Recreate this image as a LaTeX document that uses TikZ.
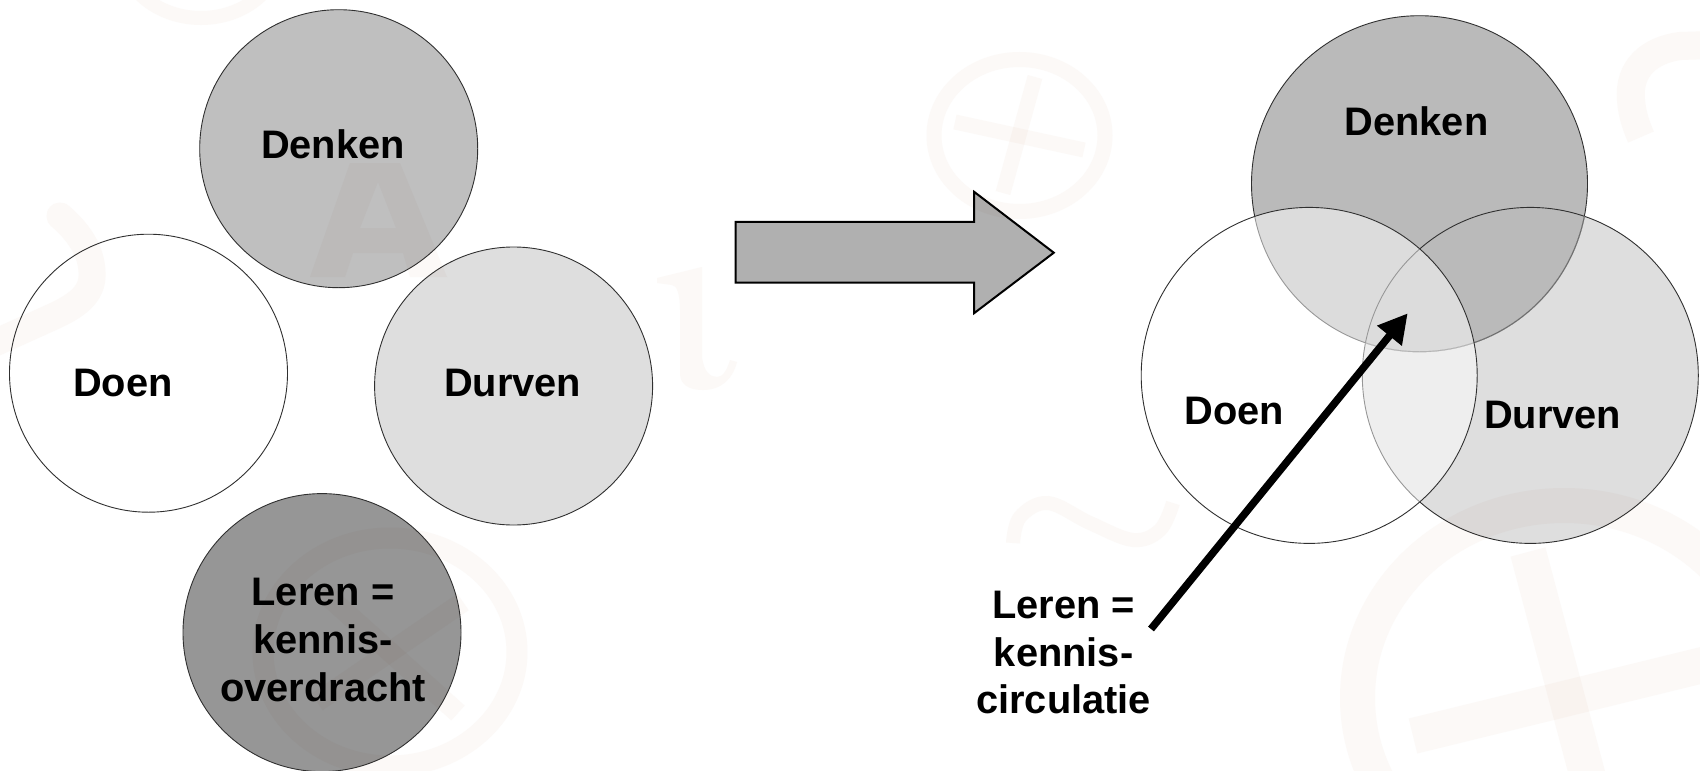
\documentclass[tikz,border=0pt]{standalone}
\usepackage{fontspec}
\setmainfont{Liberation Sans}
\usetikzlibrary{arrows.meta}
\definecolor{wm}{HTML}{FCF9F7}
\definecolor{edge}{HTML}{303030}
\tikzset{
  x=1pt,y=-1pt,
  lbl/.style={font=\fontsize{39.8}{48}\selectfont\bfseries,inner sep=0pt,outer sep=0pt,anchor=base,align=center,text=black},
  smallc/.style={circle,draw=edge,line width=0.9pt,minimum size=278pt,inner sep=0pt,outer sep=0pt},
  bigc/.style={circle,draw=edge,line width=0.9pt,minimum size=336pt,inner sep=0pt,outer sep=0pt},
  wmline/.style={draw=wm,line width=#1},
  wmark/.style={blend mode=multiply}
}
\begin{document}
\begin{tikzpicture}
\useasboundingbox (0,0) rectangle (1700,771);
\clip (0,0) rectangle (1700,771);
\fill[white] (0,0) rectangle (1700,771);
% left circles
\node[smallc,fill=white] (doenL) at (148.5,373.2) {};
\node[smallc,fill=white!75!black] (denkenL) at (338.7,148.7) {};
\node[smallc,fill=white!87!black] (durvenL) at (513.6,386) {};
\node[smallc,fill=white!59!black] (lerenL) at (322,632.6) {};
% block arrow
\draw[fill=white!69!black,line width=2pt,draw=black,miter limit=10]
  (735.6,221.8) -- (974.1,221.8) -- (974.1,191.8) -- (1053.8,252.7) -- (974.1,313.2) -- (974.1,282.7) -- (735.6,282.7) -- cycle;
% right circles
\node[bigc,fill=white!87!black] (durvenR) at (1530.3,375.4) {};
\node[bigc,fill=white!73!black] (denkenR) at (1419.5,183.7) {};
\begin{scope}
  \clip (durvenR.center) circle [radius=168];
  \draw[draw=white!73!black,line width=1.4pt] (denkenR.center) circle [radius=168];
  \draw[draw=white!42!black,line width=0.9pt] (denkenR.center) circle [radius=168];
\end{scope}
\begin{scope}
  \clip (denkenR.center) circle [radius=168];
  \draw[draw=edge,line width=0.9pt] (durvenR.center) circle [radius=168];
\end{scope}
\node[bigc,fill=white,fill opacity=0.5] (doenR) at (1309.2,375.4) {};
% watermark
\begin{scope}[wmark]
  \draw[wmline=35pt] (1564,698) ellipse [x radius=206.5,y radius=192.5];
  \draw[wmline=36pt] (1413,736) -- (1715,662);
  \draw[wmline=36pt] (1528,552) -- (1610,860);
  \draw[wmline=15pt] (1019.5,135.5) ellipse [x radius=85.5,y radius=76];
  \draw[wmline=15pt] (955,122) -- (1084,150);
  \draw[wmline=15pt] (1035,77) -- (1003,193);
  \draw[wmline=21pt] (390,652) ellipse [x radius=127,y radius=114];
  \draw[wmline=20pt] (463,602) -- (317,702);
  \draw[wmline=20pt] (458,713) -- (322,591);
  \draw[wmline=14pt] (201,-50) ellipse [x radius=80,y radius=68];
  \fill[wm,even odd rule] (310,277) -- (350,163) -- (400,163) -- (447,277) -- (410,277) -- (403,253) -- (353,253) -- (345,277) -- cycle
    (378,182) -- (360,228) -- (396,228) -- cycle;
  \fill[wm] (657,278) -- (702,267) -- (702,357) .. controls (704,372) and (710,377) .. (717,377)
    .. controls (723,377) and (727,370) .. (730,360) -- (737,362) .. controls (733,378) and (722,390) .. (703,390)
    .. controls (688,390) and (680,384) .. (680,373) -- (680,310) .. controls (680,295) and (677,285) .. (672,285)
    -- (657,283) -- cycle;
  \draw[wmline=27pt,line cap=round] (60,216) .. controls (82,235) and (93,255) .. (92,277)
    .. controls (91,298) and (70,309) .. (50,318) -- (-12,346);
  \draw[wmline=14pt] plot[smooth,tension=0.6] coordinates {(1013,543) (1020,517) (1048,503) (1090,523) (1133,540) (1160,530) (1173,503)};
  \draw[wmline=28pt] (1712,45) -- (1680,46) .. controls (1650,50) and (1628,68) .. (1631,100) .. controls (1632,115) and (1637,128) .. (1641,137);
\end{scope}
% labels
\node[lbl] (tDenkenL) at (333,158) {Denken};
\node[lbl] (tDoenL) at (123,396) {Doen};
\node[lbl] (tDurvenL) at (512.6,396) {Durven};
\node[lbl] (tLerenL1) at (323,605) {Leren =};
\node[lbl] (tLerenL2) at (323,653) {kennis-};
\node[lbl] (tLerenL3) at (323,701) {overdracht};
\node[lbl] (tDenkenR) at (1416.5,135) {Denken};
\node[lbl] (tDoenR) at (1234,424) {Doen};
\node[lbl] (tDurvenR) at (1552.6,428) {Durven};
\node[lbl] (tLerenR1) at (1063.6,618) {Leren =};
\node[lbl] (tLerenR2) at (1063.6,666) {kennis-};
\node[lbl] (tLerenR3) at (1063.6,713) {circulatie};
% pointer
\coordinate (ptail) at (1151,629);
\coordinate (ptip) at (1407.7,313.3);
\draw[line width=7.5pt,draw=black,-{Triangle[length=29pt,width=30pt]}] (ptail) -- (ptip);
\end{tikzpicture}
\end{document}
